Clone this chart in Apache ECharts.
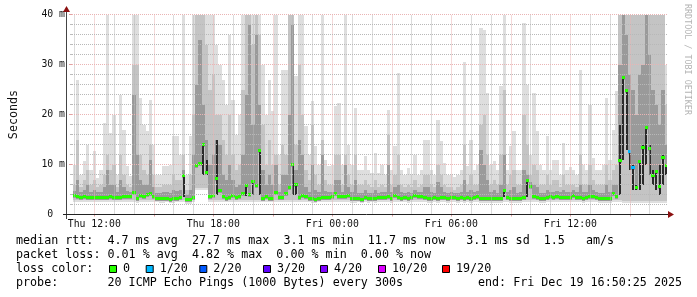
<!DOCTYPE html>
<html><head><meta charset="utf-8">
<script src="https://cdn.jsdelivr.net/npm/echarts@6/dist/echarts.min.js"></script>
<style>html,body{margin:0;padding:0;background:#fff}#c{width:697px;height:297px}</style>
</head><body><div id="c"></div>
<script>
// ---- data: one column every 10 minutes, starting Thu 11:00 (hours since Thu 00:00) ----
const START_HOUR = 11;
const STEP_HOURS = 1 / 6;
const xTickHours = [12, 18, 24, 30, 36];

// median RTT (ms)
const medianMs = [
3.9,3.8,3.6,3.7,3.5,3.6,3.6,3.5,3.6,3.6,
3.5,3.7,3.6,3.5,3.6,3.7,3.7,3.8,4.6,3.4,
4.0,3.7,4.2,4.3,3.8,3.3,3.3,3.3,3.4,3.1,
3.3,3.4,3.6,7.9,3.1,3.1,3.5,10.0,10.3,14.1,
8.5,3.7,4.0,7.4,5.0,3.8,3.4,3.5,4.0,3.6,
3.7,4.3,5.9,4.2,6.7,6.0,12.9,3.4,3.8,3.3,
3.3,4.5,3.6,3.6,4.3,5.6,10.1,6.2,3.6,3.9,
3.8,3.3,3.3,3.2,3.4,3.5,3.6,3.6,3.7,4.3,
3.8,3.8,3.7,3.9,3.3,3.3,3.4,3.2,3.5,3.3,
3.4,3.3,3.5,3.6,3.5,3.7,3.4,4.0,3.6,3.4,
3.5,3.3,3.6,4.0,3.8,3.7,3.6,3.4,3.3,3.5,
3.4,3.6,3.5,3.3,3.6,3.5,3.4,3.6,3.3,3.5,
3.3,3.6,3.7,3.4,3.3,3.3,3.4,3.3,3.3,3.4,
4.9,3.5,3.4,3.4,3.3,3.4,3.6,7.0,5.7,3.8,
3.5,3.4,3.3,3.6,3.7,3.5,3.7,3.5,3.6,3.5,
3.5,4.0,3.6,3.5,3.4,3.6,3.7,3.8,3.5,3.3,
3.3,3.4,3.3,4.3,3.8,11.0,27.5,25.0,12.7,9.5,
5.6,10.7,13.5,17.5,13.3,8.0,8.8,5.7,11.5,10.0];

// lowest ping of each column (ms)
const minMs = [
2.6,2.5,2.6,2.5,2.6,2.6,2.5,2.6,2.6,2.5,
2.5,2.6,2.5,2.6,2.5,2.6,2.6,2.5,2.5,2.4,
2.5,2.6,2.5,2.5,2.6,2.5,2.4,2.4,2.5,2.3,
2.4,2.5,2.5,2.5,2.2,2.2,2.6,5.0,5.0,5.0,
5.0,2.6,2.5,2.5,2.5,2.6,2.5,2.5,2.5,2.6,
2.5,2.5,2.5,2.5,2.5,2.5,2.5,2.5,2.6,2.5,
2.5,2.6,2.5,2.5,2.5,2.5,2.5,2.5,2.6,2.5,
2.5,2.5,2.4,2.4,2.5,2.5,2.5,2.5,2.5,2.5,
2.5,2.6,2.5,2.5,2.4,2.4,2.5,2.4,2.5,2.4,
2.5,2.4,2.5,2.5,2.5,2.5,2.4,2.6,2.5,2.5,
2.5,2.4,2.5,2.6,2.6,2.5,2.5,2.4,2.4,2.5,
2.4,2.5,2.5,2.4,2.5,2.5,2.4,2.5,2.4,2.5,
2.4,2.5,2.5,2.4,2.4,2.4,2.4,2.4,2.4,2.4,
2.5,2.5,2.4,2.4,2.4,2.4,2.5,2.5,2.6,2.5,
2.5,2.4,2.4,2.5,2.5,2.5,2.5,2.5,2.5,2.5,
2.5,2.6,2.5,2.5,2.4,2.5,2.5,2.6,2.5,2.4,
2.4,2.4,2.4,2.6,2.5,2.6,2.4,2.4,2.4,2.3,
2.3,2.3,2.4,2.3,2.3,2.3,2.4,2.3,2.4,2.4];

// top of the dark smoke band (ms)
const darkTopMs = [
4.8,7,4.5,5,6,4.6,5,4.5,4.6,5.5,
9,6,6,4.5,7,5.5,4.8,4.6,24,12,
7,6,6,11,5.5,4.3,4.3,4.5,4.5,4.3,
5,4.8,5,9,4,5,12,26,35,22,
15,10,12,15,14,8,7,10,7,5.5,
6,12,24,38,18,36,22,9,6,8,
6,10,4.6,8,8,20,38,9,15,12,
5.5,4.5,10,5,4.5,12,4.8,4.6,4.6,7,
7,4.6,10,5.5,4.5,7,4.4,4.3,5,4.4,
4.4,5,4.4,4.6,4.5,10,4.5,5.5,6,4.5,
4.4,4.5,4.4,5,4.6,4.6,5.5,5.5,4.5,4.4,
6.5,5.5,4.6,4.3,4.5,4.4,4.4,4.6,7,4.5,
5,4.6,4.7,13,10,7,4.5,5,4.4,6,
12,4.5,5,5.5,4.4,4.5,9,8,6.5,6,
5.5,4.4,4.4,5,4.6,4.6,4.8,4.5,5,4.5,
4.5,5,4.6,6,4.5,4.6,6,5,4.5,4.3,
4.3,6,4.5,6,6,30,40,36,28,25,
20,28,30,40,32,25,22,18,25,14];

// top of the mid smoke band (ms)
const midTopMs = [
6,15,5.5,7,9,6,7,5.5,6,8,
12,9,10,5.5,12,8,6,5.5,30,30,
12,9,8,14,8,5.5,5.5,6,6,6,
8,7,7,12,5,8,20,40,40,40,
34,25,28,20,20,15,12,20,12,9,
10,25,40,40,34,40,36,18,10,15,
10,12,6,14,12,40,40,14,30,20,
9,7,18,8,6,15,7,6,6,12,
12,6,12,8,6,12,6,6,7,6,
5.5,7,5.5,6,5.5,16,6,8,12,6,
5.5,6,5.5,7,5.5,6,8,8,6,5.5,
10,8,6,5.5,5.5,5,5.5,6,14,6,
8,6,6,18,20,12,6,7,6,12,
25,6,8,9,6,6,20,14,8,10,
9,6,6,8,6,7,7,5.5,8,6,
6,6,5.5,12,6,6,10,7,6,6,
6,10,7,9,10,40,40,40,40,40,
40,40,40,40,40,40,40,40,40,22];

// highest ping of each column (ms, clipped at 40)
const maxMs = [
10,27,8,10.7,14,9,12.7,7.3,9,18.3,
40,16.3,20,8,24,17,9.7,7.7,40,40,
23.3,18,16.7,23,14,8,8,9.7,9.7,10,
15.7,15.7,12,40,8,15.7,40,40,40,40,
40,40,40,34,30,27,22,36,23,16,
20,40,40,40,40,40,40,30,20,27,
20.7,40,12,29,29,40,40,27.7,40,40,
17.7,12,22.7,13.7,10,40,11,9.7,10,21.7,
22.3,10,40,14,10,21.3,9,9,11.7,9,
8.3,12.3,8.3,10,8,21,9,13.7,28.3,9,
8,9.3,8,12,8,9,15,15,9,8,
19,14.7,10.3,8,8,7.5,8,9,30.5,9.7,
15,9,10,37.3,37,24.3,10,10.7,9,25.7,
40,9,13.7,16.7,9,9,38.3,26,12,24.3,
16.7,10,9,15.7,9,11,11,8,14.3,9,
9.5,9,8,29,10,9,22,11.3,9,9,
10,23.3,11,17,24.7,40,40,40,40,40,
40,40,40,40,40,40,40,40,40,30];

// darkest smoke core: [column index, from ms, to ms]
const coreLines = [
[33,3.5,7.9],[39,8,14.1],[40,8,11],[43,4,15],[52,3.8,6],[54,4,7],[56,4,13],
[66,4,10.1],[67,4,6.2],[130,3.5,5],[137,3.5,7],
[165,4,18],[166,11,27.5],[167,13,25],[168,9,13],[169,5,10],[170,5,6],[171,5,11],
[172,6,14],[173,10,17.5],[174,8,14],[175,6,9],[176,5,9],[177,4,10],[178,6,12],[179,8,10]];

// packet loss (x/20) for the columns that had loss
const lossColumns = [168, 169];
const lossCounts = [1, 1];

// legend texts
const statLine1 = 'median rtt:  4.7 ms avg  27.7 ms max  3.1 ms min  11.7 ms now   3.1 ms sd  1.5   am/s';
const statLine2 = 'packet loss: 0.01 % avg  4.82 % max  0.00 % min  0.00 % now';
const lossLegendLabels = ['0', '1/20', '2/20', '3/20', '4/20', '10/20', '19/20'];
const lossLegendColors = ['#26ff00', '#00b8ff', '#0059ff', '#5e00ff', '#7e00ff', '#dd00ff', '#ff0000'];
const probeText = '20 ICMP Echo Pings (1000 Bytes) every 300s';
const endText = 'end: Fri Dec 19 16:50:25 2025';

// ---- build ----
const times = medianMs.map((_, k) => START_HOUR + k * STEP_HOURS);
const lossOf = k => { const i = lossColumns.indexOf(k); return i < 0 ? 0 : lossCounts[i]; };
const lossColor = n => n === 0 ? lossLegendColors[0] : lossLegendColors[1];

const smokeData = times.map((t, k) => [t, minMs[k], darkTopMs[k], midTopMs[k], maxMs[k], medianMs[k]]);
const medData = times.map((t, k) => [t, medianMs[k], lossOf(k)]);
const coreData = coreLines.map(c => [times[c[0]], c[1], c[2]]);

function colX(api, t) {
  return [Math.round(api.coord([t - STEP_HOURS / 2, 0])[0]), Math.round(api.coord([t + STEP_HOURS / 2, 0])[0])];
}
function smokeItem(params, api) {
  const t = api.value(0);
  const [xa, xb] = colX(api, t);
  const Y = v => Math.round(api.coord([t, v])[1]);
  const lo = api.value(1), dk = api.value(2), md = api.value(3), hi = api.value(4), med = api.value(5);
  const band = (a, b, c) => ({ type: 'rect', shape: { x: xa, y: Y(b), width: xb - xa, height: Math.max(0, Y(a) - Y(b)) }, style: { fill: c } });
  return { type: 'group', children: [
    band(lo, hi, '#dedede'),
    band(lo + 0.4, md, '#c4c4c4'),
    band(Math.max(lo, med - 0.6), dk, '#9a9a9a')
  ] };
}
function coreItem(params, api) {
  const t = api.value(0);
  const xc = Math.round(api.coord([t, 0])[0]);
  const y1 = Math.round(api.coord([t, api.value(2)])[1]);
  const y0 = Math.round(api.coord([t, api.value(1)])[1]);
  return { type: 'rect', shape: { x: xc - 1, y: y1, width: 2, height: y0 - y1 }, style: { fill: '#2a2a2a' } };
}
function medItem(params, api) {
  const t = api.value(0);
  const [xa, xb] = colX(api, t);
  const yc = Math.round(api.coord([t, api.value(1)])[1]);
  return { type: 'rect', shape: { x: xa, y: yc - 1, width: xb - xa, height: 3 }, style: { fill: lossColor(api.value(2)) } };
}

const X_MIN = 10.875, X_MAX = 40.875;
const gridLines = [];
const MAJ = { color: '#eab4b4', width: 1, type: [1, 1] };
const MIN = { color: '#b8b8b8', width: 1, type: [1, 1] };
for (let h = 11; h <= 40; h++) gridLines.push({ xAxis: h, lineStyle: h % 3 === 0 ? MAJ : MIN });
for (let v = 2; v <= 40; v += 2) gridLines.push({ yAxis: v, lineStyle: v % 10 === 0 ? MAJ : MIN });

const pad = n => (n < 10 ? '0' : '') + n;
const FONT = '"DejaVu Sans Mono", monospace';

const graphic = [
  // axis extensions and arrows
  { type: 'line', shape: { x1: 66.5, y1: 219, x2: 66.5, y2: 10 }, style: { stroke: '#444', lineWidth: 1 }, z: 100 },
  { type: 'line', shape: { x1: 63, y1: 214.5, x2: 670, y2: 214.5 }, style: { stroke: '#222', lineWidth: 1 }, z: 100 },
  { type: 'polygon', shape: { points: [[66.5, 6], [63, 12], [70, 12]] }, style: { fill: '#8b1010' }, z: 101 },
  { type: 'polygon', shape: { points: [[674, 214.5], [668, 211], [668, 218]] }, style: { fill: '#8b1010' }, z: 101 },
  { type: 'text', x: 687, y: 4, rotation: -Math.PI / 2, style: { text: 'RRDTOOL / TOBI OETIKER', font: '8.4px ' + FONT, fill: '#b4b4b4', align: 'left', verticalAlign: 'middle' } },
  { type: 'text', x: 16, y: 241, style: { text: statLine1, font: '11.7px ' + FONT, fill: '#000', align: 'left', verticalAlign: 'middle' } },
  { type: 'text', x: 16, y: 255, style: { text: statLine2, font: '11.7px ' + FONT, fill: '#000', align: 'left', verticalAlign: 'middle' } },
  { type: 'text', x: 16, y: 269, style: { text: 'loss color:', font: '11.7px ' + FONT, fill: '#000', align: 'left', verticalAlign: 'middle' } },
  { type: 'text', x: 16, y: 283, style: { text: 'probe:', font: '11.7px ' + FONT, fill: '#000', align: 'left', verticalAlign: 'middle' } },
  { type: 'text', x: 107.5, y: 283, style: { text: probeText, font: '11.7px ' + FONT, fill: '#000', align: 'left', verticalAlign: 'middle' } },
  { type: 'text', x: 478, y: 283, style: { text: endText, font: '11.7px ' + FONT, fill: '#000', align: 'left', verticalAlign: 'middle' } }
];
const boxX = [109, 145.7, 199.3, 263, 320, 378, 442];
lossLegendLabels.forEach((lab, i) => {
  graphic.push({ type: 'rect', shape: { x: boxX[i] + 0.5, y: 265.5, width: 7, height: 7 }, style: { fill: lossLegendColors[i], stroke: '#000', lineWidth: 1 } });
  graphic.push({ type: 'text', x: boxX[i] + 14, y: 269, style: { text: lab, font: '11.7px ' + FONT, fill: '#000', align: 'left', verticalAlign: 'middle' } });
});

const chart = echarts.init(document.getElementById('c'), null, { renderer: 'canvas' });
chart.setOption({
  animation: false,
  backgroundColor: '#ffffff',
  grid: { left: 67, top: 14.5, width: 600, height: 200, containLabel: false },
  xAxis: {
    type: 'value', min: X_MIN, max: X_MAX,
    axisLine: { show: false },
    splitLine: { show: false },
    axisTick: { show: true, customValues: [12, 15, 18, 21, 24, 27, 30, 33, 36, 39], length: 2, lineStyle: { color: '#e2a0a0' } },
    axisLabel: {
      customValues: xTickHours, margin: 5,
      formatter: h => (h < 24 ? 'Thu ' : 'Fri ') + pad(h % 24) + ':00',
      fontFamily: 'DejaVu Sans Mono', fontSize: 9.8, color: '#111'
    }
  },
  yAxis: {
    type: 'value', min: 0, max: 40, interval: 10,
    name: 'Seconds', nameLocation: 'middle', nameGap: 52, nameRotate: 90,
    nameTextStyle: { fontFamily: 'DejaVu Sans Mono', fontSize: 11.7, color: '#111' },
    axisLine: { show: false },
    splitLine: { show: false },
    axisTick: { show: true, length: 3, lineStyle: { color: '#e2a0a0' } },
    minorTick: { show: true, splitNumber: 5, length: 2, lineStyle: { color: '#bbbbbb' } },
    axisLabel: {
      margin: 7, fontFamily: 'DejaVu Sans Mono', fontSize: 9.8, color: '#111',
      formatter: v => v === 0 ? '0  ' : v + ' m'
    }
  },
  series: [
    { type: 'custom', name: 'smoke', renderItem: smokeItem, data: smokeData, clip: true, z: 1, silent: true },
    { type: 'custom', name: 'core', renderItem: coreItem, data: coreData, clip: true, z: 2, silent: true },
    { type: 'custom', name: 'median', renderItem: medItem, data: medData, clip: true, z: 4, silent: true },
    { type: 'line', name: 'grid', data: medData.map(d => [d[0], d[1]]), z: 3, silent: true, symbol: 'none',
      lineStyle: { opacity: 0 },
      markLine: { silent: true, symbol: 'none', label: { show: false }, animation: false, data: gridLines } }
  ],
  graphic: graphic
});
</script>
</body></html>
